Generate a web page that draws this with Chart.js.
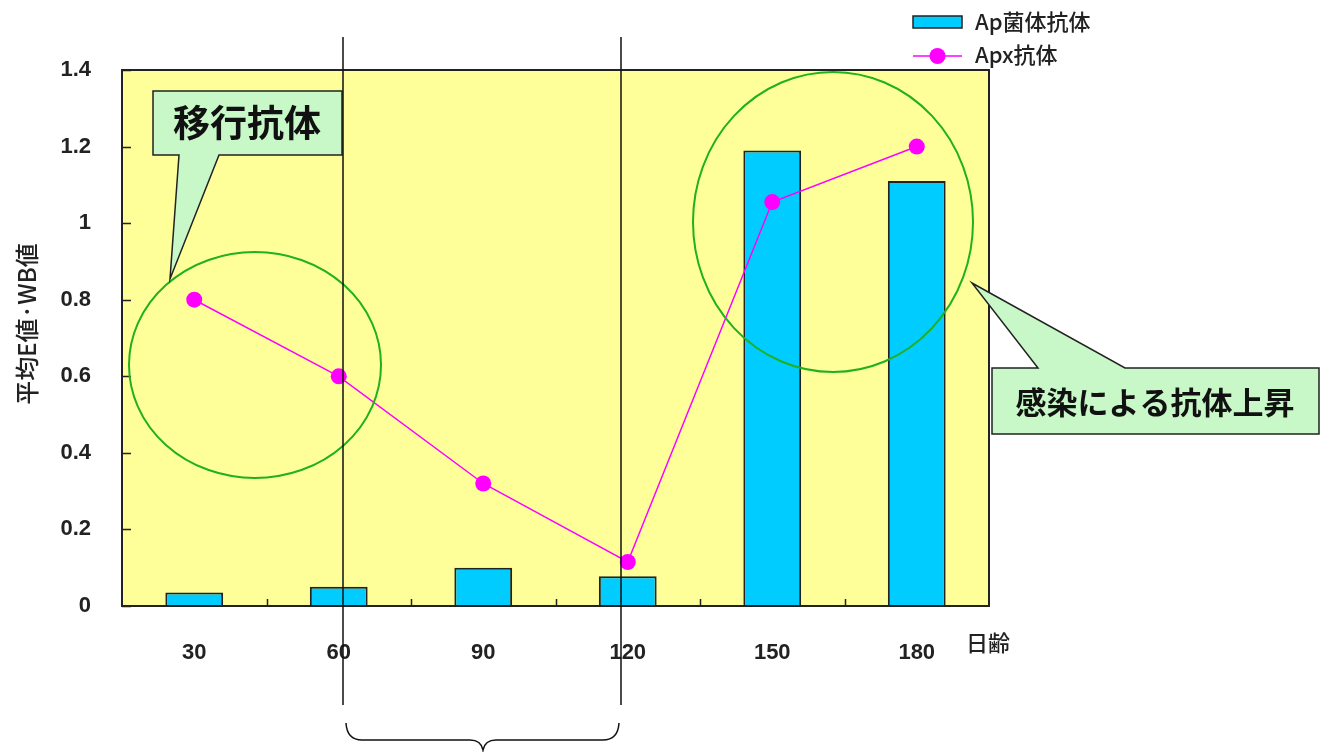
<!DOCTYPE html>
<html lang="ja">
<head>
<meta charset="utf-8">
<title>日齢別 抗体価</title>
<script src="https://cdn.jsdelivr.net/npm/chart.js"></script>
<style>
    html, body { margin: 0; padding: 0; background: #fff; }
    #chartContainer { width: 1329px; height: 752px; position: relative; }
</style>
</head>
<body>

<div id="chartContainer">
    <canvas id="abChart"></canvas>
</div>

<script>
// data
const days = ['30', '60', '90', '120', '150', '180'];
const apCellAb = [0.035, 0.05, 0.1, 0.078, 1.19, 1.11];   // Ap菌体抗体 (bars)
const apxAb = [0.80, 0.60, 0.32, 0.115, 1.055, 1.20];     // Apx抗体 (line)
const yTicks = [0, 0.2, 0.4, 0.6, 0.8, 1, 1.2, 1.4];
const seriesNames = ['Ap菌体抗体', 'Apx抗体'];

const JP = '"Noto Sans CJK JP", "Liberation Sans", sans-serif';
const NUM = '"Liberation Sans", Arial, sans-serif';

// callout: box + pointer on the top or bottom edge
function callout(ctx, box, baseA, baseB, tip, onTop) {
    const { x, y, w, h } = box;
    ctx.beginPath();
    if (onTop) {
        ctx.moveTo(x, y);
        ctx.lineTo(baseA, y);
        ctx.lineTo(tip.x, tip.y);
        ctx.lineTo(baseB, y);
        ctx.lineTo(x + w, y);
        ctx.lineTo(x + w, y + h);
        ctx.lineTo(x, y + h);
    } else {
        ctx.moveTo(x, y);
        ctx.lineTo(x + w, y);
        ctx.lineTo(x + w, y + h);
        ctx.lineTo(baseB, y + h);
        ctx.lineTo(tip.x, tip.y);
        ctx.lineTo(baseA, y + h);
        ctx.lineTo(x, y + h);
    }
    ctx.closePath();
    ctx.fillStyle = '#c8f7c8';
    ctx.fill();
    ctx.lineWidth = 1.5;
    ctx.strokeStyle = '#222';
    ctx.stroke();
}

const decorPlugin = {
    id: 'decor',
    beforeDatasetsDraw(chart) {
        const { ctx, chartArea: a } = chart;
        ctx.save();
        ctx.fillStyle = '#ffff99';
        ctx.fillRect(a.left, a.top, a.right - a.left, a.bottom - a.top);
        ctx.restore();
    },
    afterDatasetsDraw(chart) {
        const { ctx, chartArea: a, scales: { x, y } } = chart;
        ctx.save();

        // frame
        ctx.strokeStyle = '#222';
        ctx.lineWidth = 2;
        ctx.strokeRect(a.left, a.top, a.right - a.left, a.bottom - a.top);

        // inward ticks
        ctx.lineWidth = 1.5;
        ctx.beginPath();
        yTicks.forEach(v => {
            const py = Math.round(y.getPixelForValue(v)) + 0.5;
            ctx.moveTo(a.left, py);
            ctx.lineTo(a.left + 9, py);
        });
        for (let i = 0; i < days.length - 1; i++) {
            const px = Math.round((x.getPixelForValue(i) + x.getPixelForValue(i + 1)) / 2) + 0.5;
            ctx.moveTo(px, a.bottom);
            ctx.lineTo(px, a.bottom - 7);
        }
        ctx.stroke();

        // y axis title
        ctx.save();
        ctx.translate(27, 324);
        ctx.rotate(-Math.PI / 2);
        ctx.fillStyle = '#222';
        ctx.font = '500 24px ' + JP;
        ctx.textAlign = 'center';
        ctx.textBaseline = 'middle';
        ctx.fillText('平均E値·WB値', 0, 0);
        ctx.restore();

        // x axis unit
        ctx.fillStyle = '#222';
        ctx.font = '500 22px ' + JP;
        ctx.textAlign = 'left';
        ctx.textBaseline = 'middle';
        ctx.fillText('日齢', 966, 643);

        // legend
        ctx.fillStyle = '#00ccff';
        ctx.fillRect(913, 16, 49, 12);
        ctx.lineWidth = 1.5;
        ctx.strokeStyle = '#222';
        ctx.strokeRect(913, 16, 49, 12);
        ctx.strokeStyle = '#ff00ff';
        ctx.beginPath();
        ctx.moveTo(913, 56);
        ctx.lineTo(962, 56);
        ctx.stroke();
        ctx.fillStyle = '#ff00ff';
        ctx.beginPath();
        ctx.arc(937.5, 56, 8, 0, Math.PI * 2);
        ctx.fill();
        ctx.fillStyle = '#222';
        ctx.font = '500 22px ' + JP;
        ctx.textBaseline = 'middle';
        ctx.fillText(seriesNames[0], 975, 22);
        ctx.fillText(seriesNames[1], 975, 55);

        // green ellipses
        ctx.strokeStyle = '#20b020';
        ctx.lineWidth = 2;
        ctx.beginPath();
        ctx.ellipse(255, 365, 126, 113, 0, 0, Math.PI * 2);
        ctx.stroke();
        ctx.beginPath();
        ctx.ellipse(833, 222, 140, 150, 0, 0, Math.PI * 2);
        ctx.stroke();

        // callouts
        callout(ctx, { x: 153, y: 91, w: 189, h: 64 }, 179, 219, { x: 170, y: 279 }, false);
        callout(ctx, { x: 992, y: 368, w: 327, h: 66 }, 1038, 1125, { x: 972, y: 283 }, true);
        ctx.fillStyle = '#111';
        ctx.textAlign = 'center';
        ctx.textBaseline = 'middle';
        ctx.font = 'bold 37px ' + JP;
        ctx.fillText('移行抗体', 247, 123);
        ctx.font = 'bold 31px ' + JP;
        ctx.fillText('感染による抗体上昇', 1155, 402);

        ctx.restore();
    },
    afterDraw(chart) {
        const { ctx } = chart;
        ctx.save();
        ctx.strokeStyle = '#111';
        ctx.lineWidth = 1.5;
        // vertical markers
        ctx.beginPath();
        ctx.moveTo(343, 37); ctx.lineTo(343, 705);
        ctx.moveTo(621, 37); ctx.lineTo(621, 705);
        ctx.stroke();
        // brace
        ctx.beginPath();
        ctx.moveTo(346, 723);
        ctx.quadraticCurveTo(347, 740, 362, 740);
        ctx.lineTo(470, 740);
        ctx.quadraticCurveTo(481, 740, 483, 750);
        ctx.quadraticCurveTo(485, 740, 496, 740);
        ctx.lineTo(603, 740);
        ctx.quadraticCurveTo(618, 740, 619, 723);
        ctx.stroke();
        ctx.restore();
    }
};

const ctx = document.getElementById('abChart').getContext('2d');
new Chart(ctx, {
    data: {
        labels: days,
        datasets: [
            {
                type: 'line',
                label: seriesNames[1],
                data: apxAb,
                borderColor: '#ff00ff',
                backgroundColor: '#ff00ff',
                borderWidth: 1.5,
                pointRadius: 8,
                pointBorderWidth: 0,
                tension: 0,
                order: 0
            },
            {
                type: 'bar',
                label: seriesNames[0],
                data: apCellAb,
                backgroundColor: '#00ccff',
                borderColor: '#222',
                borderWidth: 2,
                barPercentage: 0.4,
                categoryPercentage: 1,
                order: 1
            }
        ]
    },
    options: {
        responsive: true,
        maintainAspectRatio: false,
        animation: false,
        layout: { padding: { left: 0, top: 70, right: 340, bottom: 0 } },
        plugins: {
            legend: { display: false },
            tooltip: { enabled: false }
        },
        scales: {
            x: {
                offset: true,
                grid: { display: false },
                border: { display: false },
                ticks: {
                    padding: 26,
                    color: '#222',
                    font: { family: NUM, size: 22, weight: 'bold' }
                },
                afterFit: s => { s.height = 146; }
            },
            y: {
                min: 0,
                max: 1.4,
                grid: { display: false },
                border: { display: false },
                afterBuildTicks: s => { s.ticks = yTicks.map(v => ({ value: v })); },
                ticks: {
                    padding: 23,
                    color: '#222',
                    font: { family: NUM, size: 22, weight: 'bold' },
                    callback: v => String(v)
                },
                afterFit: s => { s.width = 122; }
            }
        }
    },
    plugins: [decorPlugin]
});
</script>

</body>
</html>
